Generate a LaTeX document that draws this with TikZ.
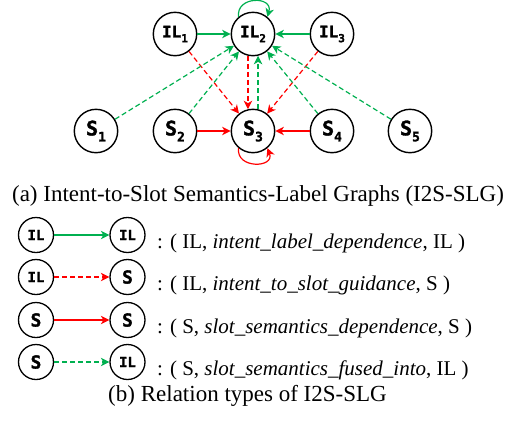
\documentclass[tikz,border=0pt]{standalone}
\usepackage{fontspec}
\setmainfont{Liberation Serif}
\newfontfamily\nodefont[FakeBold=1.6]{DejaVu Sans Mono Bold}
\usetikzlibrary{arrows.meta}
\definecolor{edgegreen}{RGB}{0,176,80}
\definecolor{edgered}{RGB}{255,0,0}
\newcommand{\nsub}[2]{\raisebox{-0.3em}{\fontsize{#2}{#2}\selectfont #1}}
\tikzset{
  bignode/.style={circle,draw=black,line width=1.4pt,minimum size=43.4pt,inner sep=0pt,
    font=\nodefont},
  smallnode/.style={circle,draw=black,line width=1.3pt,minimum size=35pt,inner sep=0pt,
    font=\nodefont},
  edgebase/.style={line width=1.2pt,-{Stealth[length=8.5pt,width=8.5pt,inset=2.5pt]}},
  gsolid/.style={edgebase,draw=edgegreen},
  gdash/.style={edgebase,draw=edgegreen,dash pattern=on 5pt off 3pt},
  rsolid/.style={edgebase,draw=edgered},
  rdash/.style={edgebase,draw=edgered,dash pattern=on 5pt off 3pt},
  captext/.style={font=\fontsize{23}{27}\selectfont,inner sep=0pt,anchor=base},
  legtext/.style={font=\fontsize{21}{25}\selectfont,inner sep=0pt,anchor=base west},
}
\begin{document}
\begin{tikzpicture}[x=1pt,y=-1pt]
\useasboundingbox (0,0) rectangle (517,421);
% graph nodes
\node[bignode] (IL1) at (175,34) {\fontsize{16}{16}\selectfont IL\nsub{1}{11}};
\node[bignode] (IL2) at (253,34) {\fontsize{16}{16}\selectfont IL\nsub{2}{11}};
\node[bignode] (IL3) at (332,34) {\fontsize{16}{16}\selectfont IL\nsub{3}{11}};
\node[bignode] (S1) at (96,131) {\fontsize{20}{20}\selectfont S\nsub{1}{13}};
\node[bignode] (S2) at (175,131) {\fontsize{20}{20}\selectfont S\nsub{2}{13}};
\node[bignode] (S3) at (253,131) {\fontsize{20}{20}\selectfont S\nsub{3}{13}};
\node[bignode] (S4) at (332,131) {\fontsize{20}{20}\selectfont S\nsub{4}{13}};
\node[bignode] (S5) at (410,131) {\fontsize{20}{20}\selectfont S\nsub{5}{13}};
% edges
\draw[gsolid] (IL1) -- (IL2);
\draw[gsolid] (IL3) -- (IL2);
\draw[gsolid] (IL2.130) .. controls +(-3,-21) and +(6,-21) .. (IL2.50);
\draw[rdash] (IL1) -- (S3);
\draw[rdash] (IL3) -- (S3);
\draw[rdash] (IL2.-103) -- (S3.103);
\draw[gdash] (S3.77) -- (IL2.-77);
\draw[gdash] (S1) -- (IL2);
\draw[gdash] (S2) -- (IL2);
\draw[gdash] (S4) -- (IL2);
\draw[gdash] (S5) -- (IL2);
\draw[rsolid] (S2) -- (S3);
\draw[rsolid] (S4) -- (S3);
\draw[rsolid] (S3.-130) .. controls +(-3,21) and +(8,20) .. (S3.-50);
% caption a
\node[captext] (capa) at (258,201) {(a) Intent-to-Slot Semantics-Label Graphs (I2S-SLG)};
% legend
\node[smallnode] (L1a) at (36,235) {\fontsize{14}{14}\selectfont IL};
\node[smallnode] (L1b) at (127.5,235) {\fontsize{14}{14}\selectfont IL};
\node[smallnode] (L2a) at (36,277) {\fontsize{14}{14}\selectfont IL};
\node[smallnode] (L2b) at (127.5,277) {\fontsize{18}{18}\selectfont S};
\node[smallnode] (L3a) at (36,320) {\fontsize{18}{18}\selectfont S};
\node[smallnode] (L3b) at (127.5,320) {\fontsize{18}{18}\selectfont S};
\node[smallnode] (L4a) at (36,362) {\fontsize{18}{18}\selectfont S};
\node[smallnode] (L4b) at (127.5,362) {\fontsize{14}{14}\selectfont IL};
\draw[gsolid] (L1a) -- (L1b);
\draw[rdash] (L2a) -- (L2b);
\draw[rsolid] (L3a) -- (L3b);
\draw[gdash] (L4a) -- (L4b);
\node[legtext] (T1) at (157,248) {: ( IL, \textit{intent\_label\_dependence}, IL )};
\node[legtext] (T2) at (157,290) {: ( IL, \textit{intent\_to\_slot\_guidance}, S )};
\node[legtext] (T3) at (157,333) {: ( S, \textit{slot\_semantics\_dependence}, S )};
\node[legtext] (T4) at (157,375) {: ( S, \textit{slot\_semantics\_fused\_into}, IL )};
\node[captext] (capb) at (247.5,401.7) {(b) Relation types of I2S-SLG};
\end{tikzpicture}
\end{document}
